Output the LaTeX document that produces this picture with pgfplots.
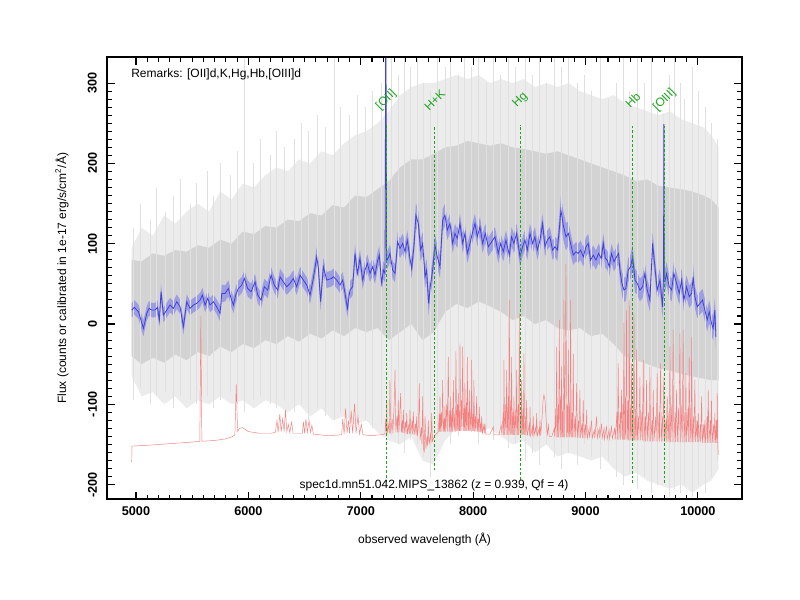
\documentclass[border=0pt]{standalone}
\usepackage{fontspec}
\setmainfont{Liberation Sans}
\usepackage{pgfplots}
\usepackage{pgfplotstable}
\pgfplotsset{compat=1.18}
\usepgfplotslibrary{fillbetween}

\definecolor{grayouter}{RGB}{236,236,236}
\definecolor{graycore}{RGB}{211,211,211}
\definecolor{grayspike}{RGB}{224,224,224}
\definecolor{skyred}{RGB}{244,130,130}
\definecolor{bline}{RGB}{65,65,220}
\definecolor{bband}{RGB}{135,135,232}
\definecolor{lgreen}{RGB}{30,165,30}
\newcommand{\lab}{\fontsize{9}{10.8}\selectfont}

\pgfplotstableread{
x clo chi olo ohi
4962 -40 80 -65 95
5050 -50 78 -90 120
5150 -42 88 -85 110
5250 -48 85 -100 135
5350 -38 92 -90 125
5450 -45 90 -105 140
5550 -35 98 -95 150
5650 -40 95 -100 140
5750 -28 105 -90 165
5850 -35 100 -100 155
5950 -25 115 -95 175
6050 -30 112 -105 170
6150 -20 122 -95 185
6250 -25 120 -100 195
6350 -15 130 -110 190
6450 -22 128 -100 205
6550 -12 138 -115 200
6650 -18 135 -105 215
6750 -8 148 -120 210
6850 -15 145 -115 225
6950 -5 160 -125 235
7050 -10 158 -120 240
7150 -5 168 -135 250
7250 -20 178 -145 265
7350 -10 195 -150 285
7450 0 205 -140 295
7550 -20 205 -170 300
7650 -10 212 -175 300
7750 15 220 -145 305
7850 25 222 -130 310
7950 20 228 -125 305
8050 28 225 -135 310
8150 22 222 -130 300
8250 15 225 -140 305
8350 5 220 -150 300
8450 10 218 -145 305
8550 0 215 -160 295
8650 5 212 -150 300
8750 -5 215 -165 295
8850 -8 210 -160 300
8950 -5 205 -165 290
9050 -15 200 -170 285
9150 -12 195 -165 280
9250 -25 190 -180 285
9350 -40 185 -190 275
9450 -45 178 -185 270
9550 -50 180 -195 265
9650 -55 172 -200 260
9750 -58 170 -205 265
9850 -62 168 -200 255
9950 -65 165 -210 250
10050 -68 160 -200 245
10120 -70 155 -195 235
10185 -70 145 -180 220
}\grayband

\pgfplotstableread{
x lo hi
4975 -95 120
5040 -80 150
5125 -100 130
5180 -90 170
5262 -85 140
5330 -105 160
5395 -90 180
5481 -95 150
5540 -100 175
5633 -90 190
5690 -105 160
5752 -95 200
5838 -85 185
5900 -100 215
5963 -110 332
6047 -95 200
6110 -90 230
6191 -100 210
6250 -105 240
6316 -95 220
6409 -110 230
6470 -100 250
6533 -120 240
6616 -105 260
6680 -115 245
6765 -120 332
6822 -110 270
6900 -125 260
6972 -115 285
7040 -120 270
7103 -130 290
7180 -125 300
7269 -140 332
7330 -150 310
7386 -160 332
7440 -145 320
7507 -150 332
7560 -165 300
7618 -190 290
7680 -140 332
7748 -130 320
7800 -150 332
7866 -140 310
7920 -125 332
7985 -135 320
8050 -150 332
8117 -130 300
8180 -145 332
8238 -130 310
8310 -155 332
8374 -150 320
8460 -170 332
8527 -160 310
8590 -175 332
8655 -150 300
8720 -165 332
8783 -180 320
8850 -160 332
8926 -175 300
8990 -150 310
9055 -165 290
9130 -180 332
9204 -170 280
9270 -190 300
9334 -200 332
9390 -185 290
9462 -205 332
9520 -190 300
9585 -210 332
9640 -200 280
9745 -215 310
9790 -205 332
9842 -210 300
9880 -200 280
9946 -215 320
10000 -200 290
10063 -210 270
10120 -190 250
10170 -170 230
}\spikes

\pgfplotstableread{
x lo hi
7227 -197 248
7659 -182 248
8420 -194 248
9421 -198 248
9704 -198 248
}\markers

\pgfplotstableread{
x y
4962 -172
4963 -152
5100 -151
5300 -149
5500 -147
5568 -146
5577 10
5586 -146
5700 -145
5800 -143
5860 -140
5880 -138
5892 -75
5904 -134
5920 -130
5950 -129
5980 -132
6000 -134
6100 -136
6200 -136
6240 -135
6255 -120
6265 -135
6280 -112
6292 -134
6305 -118
6318 -134
6330 -107
6342 -134
6355 -125
6368 -135
6385 -122
6398 -136
6480 -136
6490 -122
6500 -136
6512 -118
6525 -135
6540 -120
6552 -135
6565 -126
6578 -137
6700 -139
6830 -138
6840 -118
6852 -137
6865 -105
6878 -136
6890 -120
6900 -136
6915 -108
6928 -136
6945 -99
6958 -136
6975 -115
6990 -137
7005 -125
7020 -138
7100 -139
7171 -138
7215 -137
7222 -118
7228 -137
7231 -95
7236 -136
7248 -125
7254 -136
7260 -70
7266 -136
7280 -118
7286 -136
7297 -100
7305 -57
7312 -135
7322 -115
7328 -135
7334 -95
7340 -135
7355 -86
7362 -135
7370 -120
7374 -136
7379 -107
7386 -136
7398 -122
7403 -137
7409 -111
7416 -137
7428 -125
7432 -137
7438 -107
7445 -137
7458 -120
7462 -137
7468 -109
7475 -138
7488 -124
7492 -138
7497 -115
7504 -140
7514 -125
7521 -74
7528 -145
7540 -128
7545 -150
7551 -90
7558 -155
7565 -159
7572 -115
7580 -155
7590 -140
7595 -152
7601 -120
7608 -150
7620 -138
7625 -148
7631 -111
7638 -146
7655 -140
7675 -136
7690 -134
7698 -112
7701 -134
7705 -90
7710 -134
7717 -110
7722 -134
7729 -70
7735 -134
7742 -118
7745 -134
7749 -103
7755 -134
7765 -100
7770 -134
7779 -41
7786 -134
7793 -108
7796 -134
7800 -90
7806 -134
7815 -105
7818 -134
7824 -70
7830 -134
7838 -112
7841 -134
7847 -34
7853 -133
7860 -100
7863 -133
7868 -86
7874 -133
7878 -110
7880 -133
7883 -24
7889 -133
7896 -95
7900 -133
7907 -28
7913 -133
7920 -105
7923 -133
7927 -74
7933 -133
7940 -98
7943 -133
7948 -41
7954 -133
7960 -110
7962 -133
7966 -82
7972 -133
7980 -105
7983 -133
7987 -45
7993 -133
8000 -112
8003 -133
8007 -70
8013 -134
8020 -115
8024 -134
8031 -90
8037 -134
8045 -118
8049 -134
8055 -103
8061 -135
8069 -122
8072 -135
8076 -115
8083 -136
8095 -126
8099 -136
8105 -124
8112 -137
8150 -137
8180 -128
8186 -138
8230 -138
8250 -126
8256 -138
8268 -110
8271 -138
8274 -45
8280 -138
8290 -100
8293 -138
8298 -57
8304 -138
8314 -90
8317 -138
8322 30
8328 -138
8336 -95
8338 -138
8342 -41
8348 -138
8356 -110
8358 -138
8363 -90
8369 -138
8380 -105
8382 -138
8387 -57
8393 -138
8403 -100
8405 -138
8411 13
8417 -138
8425 -110
8427 -138
8431 -70
8437 -138
8446 -105
8448 -138
8452 -37
8458 -138
8468 -115
8470 -138
8476 -95
8482 -139
8500 -125
8503 -139
8506 -103
8512 -139
8528 -128
8530 -139
8535 -115
8541 -139
8558 -128
8560 -139
8565 -111
8571 -139
8588 -130
8590 -139
8595 -120
8601 -139
8612 -120
8622 -95
8630 -88
8640 -96
8652 -125
8660 -139
8669 -124
8676 -140
8700 -140
8722 -130
8726 -140
8735 -105
8738 -141
8743 -28
8749 -141
8758 -100
8761 -141
8767 5
8773 -141
8780 -90
8782 -141
8787 -53
8793 -141
8800 -105
8802 -141
8808 30
8814 -141
8820 -60
8826 75
8832 -141
8840 -100
8842 -141
8847 -32
8853 -141
8860 -95
8862 -141
8867 30
8873 -141
8882 -110
8885 -141
8891 -37
8897 -141
8908 -115
8912 -141
8921 -74
8927 -142
8938 -120
8942 -142
8950 -82
8956 -142
8967 -125
8972 -142
8980 -95
8986 -142
8998 -125
9003 -142
9010 -107
9016 -142
9032 -130
9036 -142
9054 -120
9060 -142
9078 -132
9082 -142
9099 -115
9105 -142
9122 -130
9126 -142
9143 -124
9149 -142
9165 -130
9168 -143
9187 -128
9193 -143
9210 -132
9214 -143
9232 -128
9238 -143
9260 -130
9264 -144
9280 -110
9284 -144
9291 -49
9297 -144
9310 -110
9313 -144
9321 -82
9327 -144
9335 -100
9337 -144
9342 1
9348 -144
9356 -90
9358 -144
9365 17
9371 -145
9380 -95
9383 -145
9389 30
9395 -145
9403 -100
9405 -145
9410 -49
9416 -145
9424 -110
9426 -145
9431 13
9437 -145
9447 -105
9449 -145
9454 -32
9460 -145
9472 -115
9475 -145
9484 -66
9490 -145
9502 -110
9505 -145
9514 -45
9520 -146
9532 -115
9535 -146
9543 -70
9549 -146
9562 -110
9565 -146
9573 -53
9579 -146
9592 -120
9595 -146
9603 -82
9609 -146
9625 -115
9628 -146
9638 -61
9644 -146
9655 -110
9658 -146
9668 -49
9674 -146
9686 -115
9689 -146
9697 -66
9703 -147
9715 -120
9718 -147
9727 -90
9733 -147
9742 -110
9745 -147
9751 -28
9757 -147
9768 -100
9771 -147
9780 -7
9786 -147
9798 -110
9801 -147
9810 -82
9816 -147
9828 -105
9831 -147
9840 -12
9846 -147
9857 -100
9860 -147
9869 -7
9875 -147
9884 -110
9887 -147
9893 -61
9899 -147
9912 -105
9915 -147
9923 -41
9929 -147
9937 -100
9939 -147
9944 -16
9950 -147
9962 -115
9965 -147
9973 -70
9979 -147
9992 -120
9995 -147
10003 -111
10009 -147
10022 -125
10025 -147
10033 -90
10039 -148
10052 -125
10055 -148
10062 -120
10068 -148
10082 -115
10085 -148
10092 -82
10098 -148
10110 -120
10113 -148
10121 -95
10127 -148
10140 -125
10143 -148
10151 -111
10157 -148
10165 -120
10168 -148
10172 -86
10177 -150
10181 -163
}\sky

\pgfplotstableread{
x y e
4962 17.4 9
4986 20.7 9
5022 15.3 9
5066 -5.4 10
5096 13.3 9
5116 19.5 9
5140 17.4 9
5170 17.4 9
5191 20.7 9
5208 5.0 9
5223 40.2 10
5244 11.2 9
5274 17.4 9
5303 23.6 9
5333 19.5 9
5363 27.8 9
5392 21.5 9
5422 -3.3 10
5452 27.8 9
5481 19.5 9
5511 23.6 9
5540 25.7 9
5570 29.8 9
5591 36.1 9
5615 23.6 9
5638 31.9 9
5659 23.6 9
5689 27.8 9
5718 21.5 9
5748 13.3 10
5763 38.1 11
5793 38.1 10
5822 44.3 10
5846 31.9 10
5867 23.6 10
5887 36.1 10
5911 44.3 10
5941 48.5 10
5964 56.8 10
5994 44.3 10
6024 40.2 10
6059 52.6 10
6083 36.1 10
6113 29.8 10
6142 46.4 10
6172 42.3 10
6202 60.9 10
6231 48.5 10
6261 42.3 10
6282 58.9 10
6311 52.6 10
6341 46.4 10
6371 50.6 10
6400 56.8 10
6430 46.4 10
6460 60.9 10
6489 54.7 10
6519 48.5 10
6549 36.1 11
6578 56.8 11
6608 83.7 12
6623 69.2 11
6643 27.8 11
6667 71.3 11
6697 54.7 10
6741 56.8 10
6756 58.9 10
6786 54.7 10
6815 48.5 10
6839 54.7 10
6860 38.2 11
6881 19.5 11
6904 42.3 11
6928 46.5 11
6949 87.9 11
6970 63.0 11
6993 81.7 11
7017 54.7 11
7038 67.2 11
7059 75.5 11
7082 63.0 11
7106 71.3 11
7127 61.0 11
7148 77.6 11
7165 85.9 11
7186 50.6 12
7201 67.2 11
7216 63.0 11
7223 420 11
7230 79.6 11
7236 79.6 11
7260 87.9 11
7284 67.2 11
7305 63.0 11
7328 102.4 12
7349 94.1 12
7373 100.4 12
7394 90.0 12
7414 104.5 12
7438 81.7 12
7453 69.3 12
7474 98.3 14
7491 135.6 15
7512 125.2 15
7533 92.1 14
7551 100.4 14
7572 58.9 14
7586 67.2 14
7604 25.7 15
7622 50.6 14
7640 67.2 14
7660 98.3 14
7681 83.8 14
7705 71.3 14
7729 129.4 14
7749 135.6 14
7770 116.9 12
7794 125.2 12
7818 100.4 12
7838 112.8 12
7859 106.6 12
7883 125.2 12
7907 100.4 12
7927 112.8 12
7948 87.9 12
7972 100.4 12
7996 114.9 12
8016 125.2 12
8037 108.7 12
8061 121.1 12
8084 100.4 12
8108 112.8 12
8135 96.2 12
8165 102.4 12
8194 108.7 12
8224 87.9 12
8245 100.4 12
8268 90.0 12
8292 104.5 12
8322 85.9 12
8342 108.7 12
8363 100.4 12
8387 112.8 12
8417 83.7 12
8440 96.2 12
8461 104.5 12
8482 92.0 12
8506 112.8 12
8529 100.3 12
8550 108.6 12
8571 92.0 12
8595 104.5 12
8618 125.2 12
8639 96.2 12
8660 104.5 12
8683 108.6 12
8707 92.0 12
8728 96.2 12
8749 92.0 14
8766 116.9 17
8781 141.8 18
8802 123.1 18
8826 108.6 17
8847 112.8 15
8867 100.3 14
8891 85.8 12
8915 90.0 12
8935 87.9 12
8956 92.0 12
8980 83.7 12
9004 96.2 12
9024 100.3 12
9045 79.6 12
9069 85.8 12
9093 79.6 12
9116 87.9 12
9140 81.7 12
9158 100.3 12
9176 81.7 12
9193 79.6 12
9211 71.3 12
9232 87.9 12
9253 77.5 12
9276 83.7 12
9294 87.9 14
9306 67.2 14
9324 50.6 15
9342 42.3 15
9359 44.3 15
9380 67.2 15
9401 71.3 15
9419 83.7 15
9440 54.7 15
9460 50.6 14
9484 42.3 14
9508 46.4 14
9528 63.0 14
9549 42.3 14
9573 29.8 14
9597 100.3 14
9617 71.3 14
9638 42.3 14
9662 54.7 14
9686 21.5 14
9694 60 14
9697 249 14
9700 60 14
9709 54.7 14
9721 63.0 14
9745 46.4 14
9766 42.3 14
9786 63.0 14
9810 50.6 14
9834 38.1 14
9855 54.7 14
9875 29.8 14
9899 46.4 14
9923 34.0 14
9944 38.1 14
9958 58.9 14
9973 34.0 14
9994 21.5 14
10018 25.7 14
10041 29.8 14
10062 17.4 14
10083 5.0 14
10101 15.3 14
10121 0.8 15
10136 -5.4 15
10151 17.4 15
10160 -15.8 15
}\bluespec

\begin{document}
\begin{tikzpicture}
\begin{axis}[
  at={(0,0)}, anchor=south west, scale only axis,
  width=475.8pt, height=331.5pt,
  xmin=4745, xmax=10390, ymin=-218.3, ymax=332.1,
  xtick={5000,6000,7000,8000,9000,10000},
  ytick={-200,-100,0,100,200,300},
  scaled x ticks=false, scaled y ticks=false,
  minor x tick num=9, minor y tick num=9,
  major tick length=5.8pt, minor tick length=3.2pt,
  tick align=inside,
  tick style={black, line width=0.8pt},
  axis line style={line width=1.5pt},
  axis on top,
  /pgf/number format/assume math mode=true,
  /pgf/number format/1000 sep={},
  tick label style={font=\fontsize{9.5}{11}\selectfont\bfseries},
  xticklabel shift=2.3pt,
  yticklabel style={rotate=90, anchor=south},
  yticklabel shift=4.3pt,
  xlabel={observed wavelength (Å)},
  ylabel={Flux (counts or calibrated in 1e-17 erg/s/cm\textsuperscript{2}/Å)},
  label style={font=\lab},
  xlabel style={at={(axis description cs:0.5,-0.092)}, anchor=center},
  ylabel style={at={(axis description cs:-0.0715,0.5)}, anchor=center},
  unbounded coords=jump,
]
% gray spectra (outer haze, spikes, dense core)
\addplot[name path=oh, draw=none, forget plot] table[x=x,y=ohi]{\grayband};
\addplot[name path=ol, draw=none, forget plot] table[x=x,y=olo]{\grayband};
\addplot[fill=grayouter, draw=none, forget plot] fill between[of=oh and ol];
\addplot[draw=none, mark=none, forget plot,
  error bars/.cd, y dir=plus, y explicit, error mark=none,
  error bar style={draw=grayspike, line width=0.4pt, solid}]
  table[x=x, y=lo, y error expr=\thisrow{hi}-\thisrow{lo}]{\spikes};
\addplot[name path=ch, draw=none, forget plot] table[x=x,y=chi]{\grayband};
\addplot[name path=cl, draw=none, forget plot] table[x=x,y=clo]{\grayband};
\addplot[fill=graycore, draw=none, forget plot] fill between[of=ch and cl];
% sky spectrum
\addplot[draw=skyred, line width=0.35pt] table[x=x,y=y]{\sky};
% blue smoothed spectrum with band
\addplot[name path=bu, draw=none, forget plot] table[x=x, y expr=\thisrow{y}+\thisrow{e}]{\bluespec};
\addplot[name path=bl, draw=none, forget plot] table[x=x, y expr=\thisrow{y}-\thisrow{e}]{\bluespec};
\addplot[fill=bband, fill opacity=0.7, draw=none, forget plot] fill between[of=bu and bl];
\addplot[draw=bline, line width=0.6pt] table[x=x,y=y]{\bluespec};
% line markers (dashed green)
\addplot[draw=none, mark=none, forget plot,
  error bars/.cd, y dir=plus, y explicit, error mark=none,
  error bar style={draw=lgreen, line width=0.9pt, dash pattern=on 2pt off 1.5pt}]
  table[x=x, y=lo, y error expr=\thisrow{hi}-\thisrow{lo}]{\markers};
\node[rotate=45, text=lgreen, font=\lab] at (axis cs:7227,279) {[OII]};
\node[rotate=45, text=lgreen, font=\lab] at (axis cs:7659,279) {H+K};
\node[rotate=45, text=lgreen, font=\lab] at (axis cs:8420,279) {Hg};
\node[rotate=45, text=lgreen, font=\lab] at (axis cs:9421,279) {Hb};
\node[rotate=45, text=lgreen, font=\lab] at (axis cs:9704,279) {[OIII]};
\node[anchor=west, inner sep=0pt, font=\lab] at (axis cs:4956,311) {Remarks: [OII]d,K,Hg,Hb,[OIII]d};
\node[font=\lab] at (axis cs:7652,-200.5) {spec1d.mn51.042.MIPS\_13862 (z = 0.939, Qf = 4)};
\end{axis}
\pgfresetboundingbox
\useasboundingbox (-80.5pt,-75.5pt) rectangle (519.5pt,374.5pt);
\end{tikzpicture}
\end{document}
